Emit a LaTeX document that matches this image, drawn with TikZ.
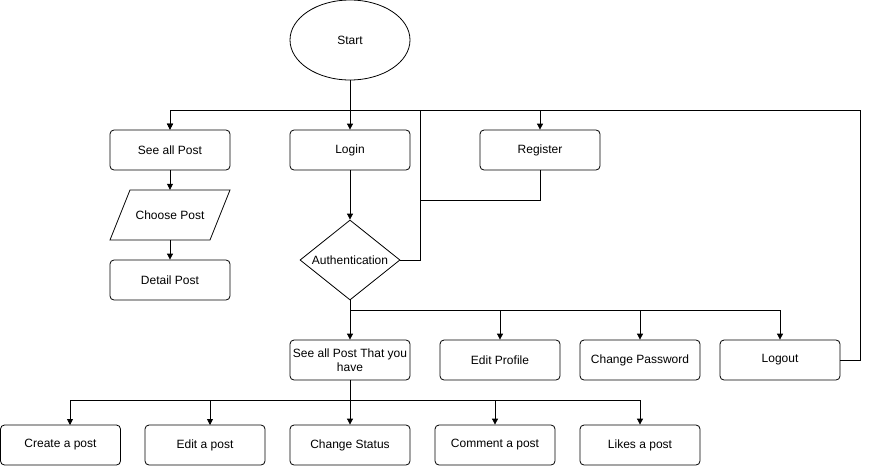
\documentclass[tikz,border=0pt]{standalone}
\usepackage{fontspec}
\setmainfont{Liberation Sans}
\usetikzlibrary{shapes.geometric,arrows.meta}
\begin{document}
\begin{tikzpicture}[x=1pt,y=-1pt,
  every node/.style={font=\fontsize{12}{14}\selectfont, inner sep=0pt},
  box/.style={draw, rounded corners=4pt, minimum width=120pt, minimum height=40pt, line width=0.8pt, align=center},
  conn/.style={line width=0.8pt},
  arr/.style={line width=0.8pt, -{Triangle[length=6pt,width=6pt]}}]
\useasboundingbox (0,0) rectangle (869,466);
\node[draw, ellipse, minimum width=120pt, minimum height=80pt, line width=0.8pt] (start) at (350,40) {Start};
\node[box] (seeall) at (170,150) {See all Post};
\node[box] (login) at (350,150) {Login};
\node[box] (register) at (540,150) {Register};
\node[minimum width=120pt, minimum height=50pt] (choose) at (170,215) {Choose Post};
\draw[line width=0.8pt] (130,190) -- (230,190) -- (210,240) -- (110,240) -- cycle;
\node[box] (detail) at (170,280) {Detail Post};
\node[draw, diamond, minimum width=100pt, minimum height=80pt, aspect=1.25, line width=0.8pt] (auth) at (350,260) {Authentication};
\node[box] (mine) at (350,360) {See all Post That you\\have};
\node[box] (editprof) at (500,360) {Edit Profile};
\node[box] (chpass) at (640,360) {Change Password};
\node[box] (logout) at (780,360) {Logout};
\node[box] (create) at (60.5,445) {Create a post};
\node[box] (editpost) at (205,445) {Edit a post};
\node[box] (status) at (350,445) {Change Status};
\node[box] (comment) at (495,445) {Comment a post};
\node[box] (likes) at (640,445) {Likes a post};
\coordinate (authr) at (420,260);
\coordinate (join) at (420,200);
\coordinate (bus) at (350,310);
\coordinate (bus2) at (350,400);
% Start
\draw[arr] (start.south) -- (login.north);
\draw[arr] (start.south) |- (170,110) -- (seeall.north);
% Logout back
\draw[arr] (logout.east) -- (860,360) -- (860,110) -| (seeall.north);
% Authentication fail / register
\draw[arr] (auth.east) -- (authr) -- (420,110) -| (register.north);
\draw[conn] (register.south) |- (join);
% left column
\draw[arr] (seeall.south) -- (choose.north);
\draw[arr] (choose.south) -- (detail.north);
% login
\draw[arr] (login.south) -- (auth.north);
% auth to menu
\draw[arr] (auth.south) -- (mine.north);
\draw[arr] (auth.south) |- (bus) -| (editprof.north);
\draw[arr] (bus) -| (chpass.north);
\draw[arr] (bus) -| (logout.north);
% menu to actions
\draw[arr] (mine.south) -- (status.north);
\draw[arr] (mine.south) |- (bus2) -| (70,425);
\draw[arr] (bus2) -| (210,425);
\draw[arr] (bus2) -| (comment.north);
\draw[arr] (bus2) -| (likes.north);
\end{tikzpicture}
\end{document}
